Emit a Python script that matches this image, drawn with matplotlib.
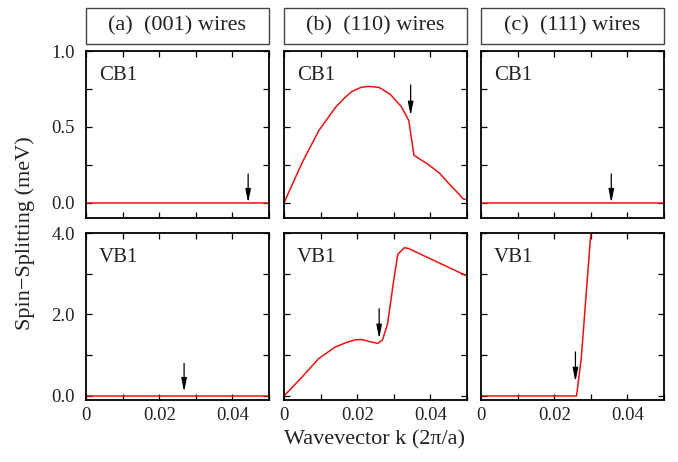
import matplotlib
matplotlib.use("Agg")
import matplotlib.pyplot as plt
from matplotlib.patches import Rectangle

plt.rcParams['font.family'] = ['Liberation Serif', 'DejaVu Serif']

# ---- data ----
titles = ["(a)  (001) wires", "(b)  (110) wires", "(c)  (111) wires"]
band_labels = ["CB1", "VB1"]

k_flat = [0.0, 0.05]
s_flat = [0.0, 0.0]

k_b_cb = [0, 0.005, 0.0095, 0.014, 0.0165, 0.0185, 0.021, 0.0231, 0.026, 0.029, 0.032, 0.0341,
          0.0355, 0.0394, 0.0425, 0.0448, 0.0475, 0.0489, 0.05]
s_b_cb = [0, 0.267, 0.475, 0.627, 0.69, 0.733, 0.76, 0.767, 0.76, 0.715, 0.635, 0.542,
          0.313, 0.253, 0.195, 0.133, 0.065, 0.027, 0.02]

k_b_vb = [0, 0.005, 0.0095, 0.014, 0.017, 0.0195, 0.0215, 0.0231, 0.0256, 0.0269, 0.0283, 0.0299,
          0.0311, 0.0329, 0.034, 0.0494, 0.05]
s_b_vb = [0, 0.47, 0.92, 1.20, 1.31, 1.38, 1.38, 1.34, 1.29, 1.37, 1.77, 2.79,
          3.48, 3.64, 3.62, 2.97, 2.95]

k_c_vb = [0, 0.0261, 0.0274, 0.030, 0.0305]
s_c_vb = [0, 0, 0.93, 3.98, 4.6]

curves = {
    (0, 0): (k_flat, s_flat), (0, 1): (k_b_cb, s_b_cb), (0, 2): (k_flat, s_flat),
    (1, 0): (k_flat, s_flat), (1, 1): (k_b_vb, s_b_vb), (1, 2): (k_c_vb, s_c_vb),
}

# arrows: (k, y_start, y_tip)
arrows = {
    (0, 0): (0.0443, 0.19, 0.0), (0, 1): (0.0346, 0.776, 0.575), (0, 2): (0.0356, 0.19, 0.0),
    (1, 0): (0.0268, 0.80, 0.10), (1, 1): (0.0260, 2.14, 1.41), (1, 2): (0.0258, 1.08, 0.35),
}

x_ticks = [0, 0.01, 0.02, 0.03, 0.04, 0.05]
x_ticklabels = ["0", "", "0.02", "", "0.04", ""]
y_ticks = [[0, 0.25, 0.5, 0.75, 1.0], [0, 1, 2, 3, 4]]
y_ticklabels = [["0.0", "", "0.5", "", "1.0"], ["0.0", "", "2.0", "", "4.0"]]
y_lims = [(-0.1, 1.0), (-0.1, 4.0)]

W, H = 678, 462
fig = plt.figure(figsize=(W / 100, H / 100), dpi=100)

lefts = [86, 284, 481]
pw = 183
tops = [51, 233]
ph = 167

for r in range(2):
    for c in range(3):
        ax = fig.add_axes([lefts[c] / W, 1 - (tops[r] + ph) / H, pw / W, ph / H])
        k, s = curves[(r, c)]
        ax.plot(k, s, color='#ee1111', lw=1.1)
        ax.set_xlim(0, 0.05)
        ax.set_ylim(*y_lims[r])
        ax.set_xticks(x_ticks)
        ax.set_yticks(y_ticks[r])
        if r == 1:
            ax.set_xticklabels(x_ticklabels)
        else:
            ax.set_xticklabels([])
        if c == 0:
            ax.set_yticklabels(y_ticklabels[r])
        else:
            ax.set_yticklabels([])
        ax.tick_params(direction='in', top=True, right=True, length=4, width=0.9,
                       labelsize=13.5, pad=5, labelcolor='#222222')
        ax.tick_params(axis='y', pad=8)
        for sp in ax.spines.values():
            sp.set_linewidth(1.3)
        ak, ay0, ay1 = arrows[(r, c)]
        ax.annotate('', xy=(ak, ay1), xytext=(ak, ay0),
                    arrowprops=dict(arrowstyle='-|>,head_length=0.8,head_width=0.16',
                                    color='black', lw=0.9, mutation_scale=10,
                                    shrinkA=0, shrinkB=0))
        ax.text(0.07, 0.855, band_labels[r], transform=ax.transAxes,
                fontsize=15, ha='left', va='center', color='#222222')

# title boxes
for c in range(3):
    x0 = lefts[c] / W
    y0 = 1 - 44 / H
    fig.patches.append(Rectangle((x0, y0), pw / W, 36 / H, transform=fig.transFigure,
                                 fill=False, edgecolor='#444444', lw=1.0))
    fig.text(x0 + pw / W / 2, y0 + 18 / H, titles[c], ha='center', va='center',
             fontsize=16, color='#222222')

fig.text(375 / W, 1 - 440 / H, "Wavevector k (2\u03c0/a)", ha='center', va='center',
         fontsize=16, color='#222222')
fig.text(25 / W, 1 - 233 / H, "Spin\u2212Splitting (meV)", ha='center', va='center',
         rotation=90, fontsize=16, color='#222222')

fig.savefig("out.png", dpi=100)
